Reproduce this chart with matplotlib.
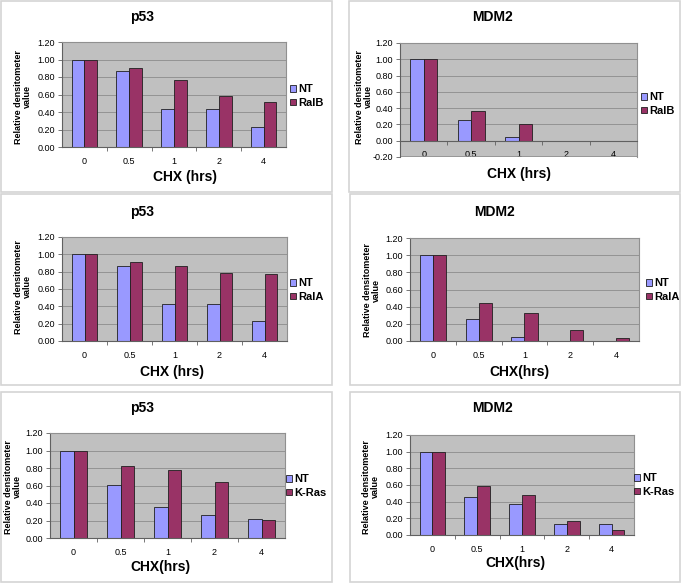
import matplotlib.pyplot as plt
from matplotlib.patches import Rectangle
import numpy as np

W, H = 683, 583
plt.rcParams['font.family'] = ['Liberation Sans', 'DejaVu Sans']

# data
times = ['0', '0.5', '1', '2', '4']

p53_ralb_nt = [1.00, 0.87, 0.43, 0.43, 0.23]
p53_ralb = [1.00, 0.90, 0.77, 0.58, 0.51]
mdm2_ralb_nt = [1.00, 0.26, 0.05, 0.00, 0.00]
mdm2_ralb = [1.00, 0.37, 0.21, 0.00, 0.00]

p53_rala_nt = [1.00, 0.87, 0.43, 0.43, 0.23]
p53_rala = [1.00, 0.91, 0.86, 0.78, 0.77]
mdm2_rala_nt = [1.00, 0.26, 0.05, 0.00, 0.00]
mdm2_rala = [1.00, 0.44, 0.33, 0.13, 0.04]

p53_kras_nt = [1.00, 0.61, 0.35, 0.26, 0.22]
p53_kras = [1.00, 0.82, 0.78, 0.64, 0.21]
mdm2_kras_nt = [1.00, 0.46, 0.37, 0.13, 0.13]
mdm2_kras = [1.00, 0.59, 0.48, 0.17, 0.06]

NT_COLOR = '#9999FF'
OTHER_COLOR = '#993366'
AREA_COLOR = '#C0C0C0'

# layout in pixels: box, plot area, title, xlabel, ylabel, legend anchor
panels = [
    dict(title='p53', xlabel='CHX (hrs)', name='RalB', nt=p53_ralb_nt, other=p53_ralb, ymin=0.0,
         box=(1, 1, 332, 192), area=(62, 42, 286, 147), t=(142, 17), xl=(185, 177), yl=(23, 97), lg=(290, 96)),
    dict(title='MDM2', xlabel='CHX (hrs)', name='RalB', nt=mdm2_ralb_nt, other=mdm2_ralb, ymin=-0.2,
         box=(349, 1, 680, 192), area=(400, 43, 637, 157), t=(492, 17), xl=(519, 174), yl=(364, 97), lg=(641, 104)),
    dict(title='p53', xlabel='CHX (hrs)', name='RalA', nt=p53_rala_nt, other=p53_rala, ymin=0.0,
         box=(1, 194, 332, 385), area=(62, 237, 287, 341), t=(142, 212), xl=(172, 372), yl=(23, 287), lg=(290, 290)),
    dict(title='MDM2', xlabel='CHX(hrs)', name='RalA', nt=mdm2_rala_nt, other=mdm2_rala, ymin=0.0,
         box=(350, 194, 680, 385), area=(410, 238, 639, 341), t=(494, 212), xl=(519, 372), yl=(372, 290), lg=(646, 290)),
    dict(title='p53', xlabel='CHX(hrs)', name='K-Ras', nt=p53_kras_nt, other=p53_kras, ymin=0.0,
         box=(1, 392, 332, 582), area=(50, 433, 285, 538), t=(142, 408), xl=(160, 567), yl=(13, 487), lg=(286, 486)),
    dict(title='MDM2', xlabel='CHX(hrs)', name='K-Ras', nt=mdm2_kras_nt, other=mdm2_kras, ymin=0.0,
         box=(350, 392, 680, 582), area=(410, 435, 634, 535), t=(492, 408), xl=(515, 563), yl=(371, 487), lg=(634, 485)),
]

fig = plt.figure(figsize=(W / 100, H / 100), dpi=100)

x = np.arange(len(times))
bw = 0.286

for p in panels:
    bx0, by0, bx1, by1 = p['box']
    fig.patches.append(Rectangle((bx0 / W, 1 - by1 / H), (bx1 - bx0) / W, (by1 - by0) / H,
                                 transform=fig.transFigure, fill=False, edgecolor='#d4d4d4', lw=1.2))

    x0, y0, x1, y1 = p['area']
    ax = fig.add_axes([x0 / W, 1 - y1 / H, (x1 - x0) / W, (y1 - y0) / H])
    ax.set_facecolor(AREA_COLOR)
    ax.set_axisbelow(True)

    b1 = ax.bar(x - bw / 2, p['nt'], bw, color=NT_COLOR, edgecolor='#202020', lw=0.6, label='NT')
    b2 = ax.bar(x + bw / 2, p['other'], bw, color=OTHER_COLOR, edgecolor='#202020', lw=0.6, label=p['name'])

    ax.set_xlim(-0.5, len(times) - 0.5)
    ax.set_ylim(p['ymin'], 1.2)
    ax.set_yticks(np.arange(p['ymin'], 1.21, 0.2))
    ax.set_yticklabels(['%.2f' % v for v in np.arange(p['ymin'], 1.21, 0.2)])
    ax.yaxis.grid(True, color='#8c8c8c', lw=0.6)

    ax.set_xticks(x)
    ax.set_xticklabels(times)
    ax.set_xticks(np.arange(0.5, len(times) - 0.5, 1), minor=True)
    ax.tick_params(axis='x', which='major', length=0, pad=7, labelsize=6.5)
    ax.tick_params(axis='x', which='minor', length=3, width=0.6, color='#606060')
    ax.tick_params(axis='y', length=3, width=0.6, pad=2, labelsize=6.5, color='#606060')

    for s in ['top', 'right']:
        ax.spines[s].set_color('#909090')
        ax.spines[s].set_linewidth(0.8)
    for s in ['left', 'bottom']:
        ax.spines[s].set_color('#606060')
        ax.spines[s].set_linewidth(0.8)
    if p['ymin'] < 0:
        ax.spines['bottom'].set_position(('data', 0))
        ax.axhline(p['ymin'], color='#909090', lw=1.2)

    fig.text(p['t'][0] / W, 1 - p['t'][1] / H, p['title'], ha='center', va='center',
             fontsize=10, fontweight='bold')
    fig.text(p['xl'][0] / W, 1 - p['xl'][1] / H, p['xlabel'], ha='center', va='center',
             fontsize=10, fontweight='bold')
    fig.text(p['yl'][0] / W, 1 - p['yl'][1] / H, 'Relative densitometer\nvalue', ha='center', va='center',
             rotation=90, fontsize=6.5, fontweight='bold', linespacing=1.0)

    ax.legend(handles=[b1, b2], loc='center left',
              bbox_to_anchor=(p['lg'][0] / W, 1 - p['lg'][1] / H), bbox_transform=fig.transFigure,
              frameon=False, borderpad=0, borderaxespad=0, handlelength=0.5, handleheight=0.5,
              handletextpad=0.25, labelspacing=0.3, prop={'size': 8, 'weight': 'bold'})

fig.savefig('out.png', dpi=100, facecolor='white')
